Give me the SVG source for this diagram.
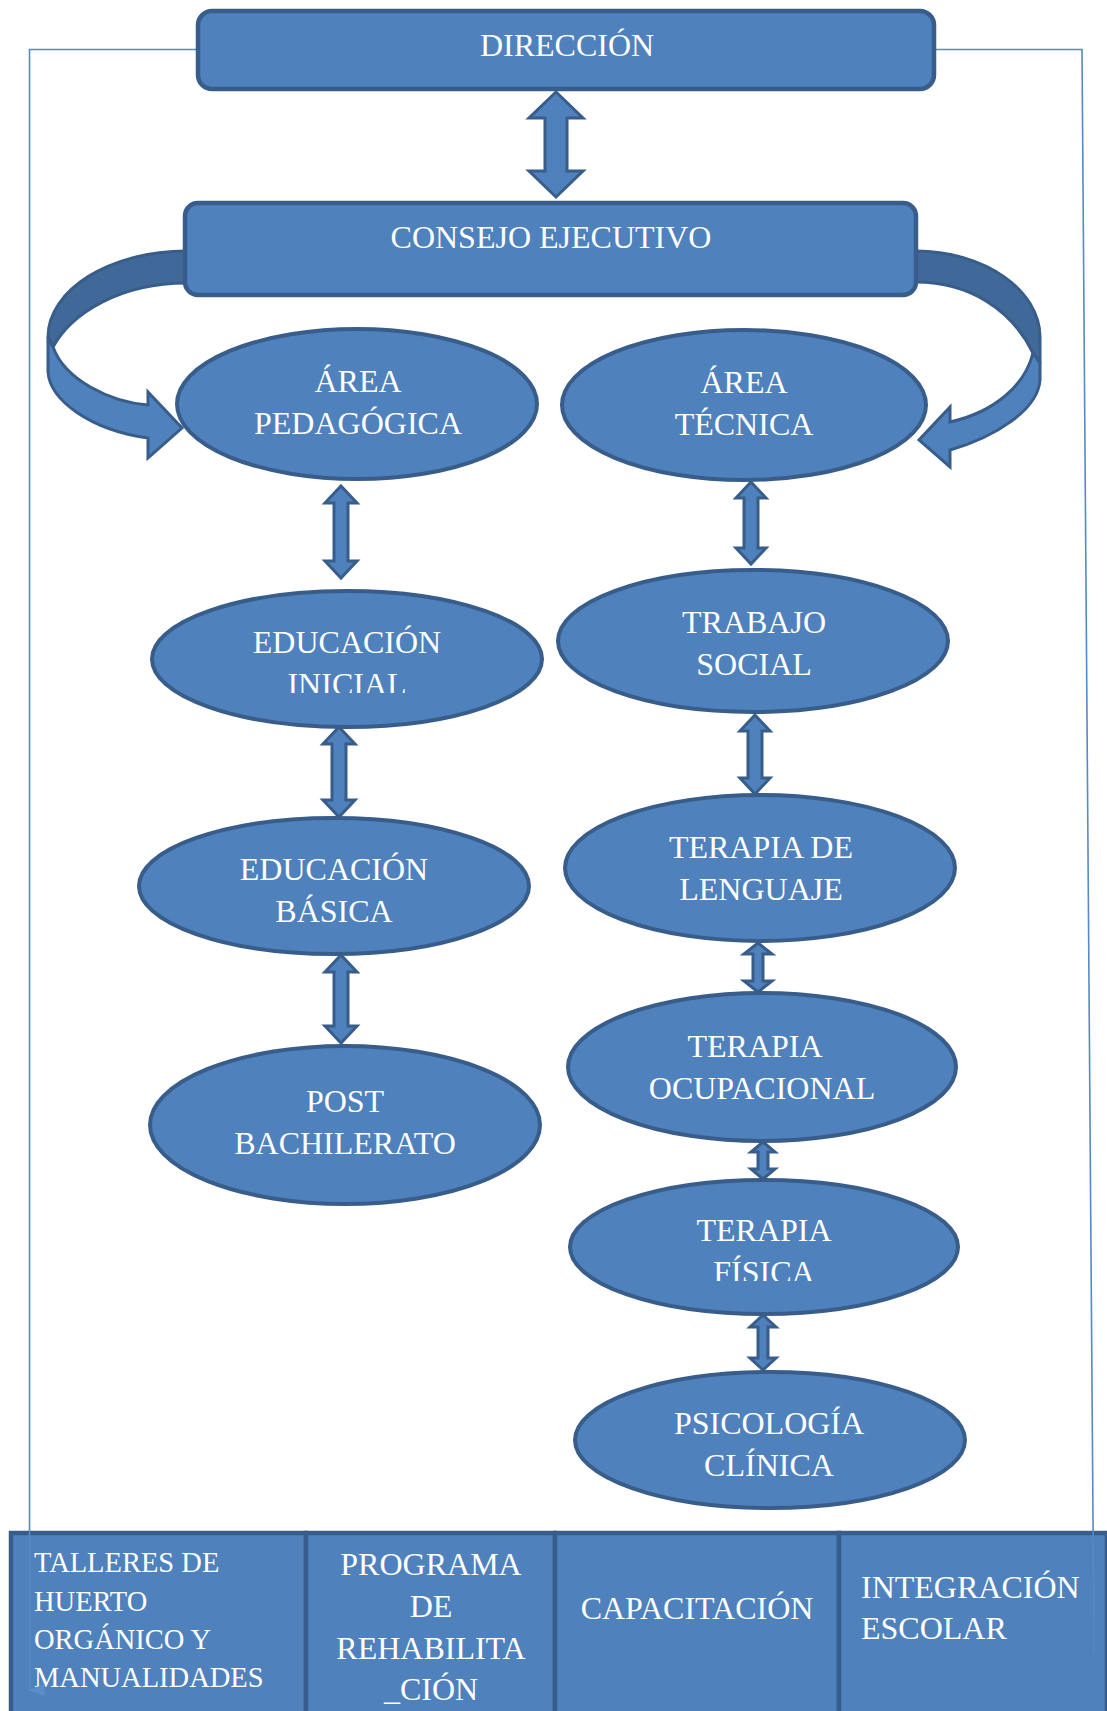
<svg xmlns="http://www.w3.org/2000/svg" width="1107" height="1711" viewBox="0 0 1107 1711">
<defs>
<style>
.box{fill:#4F81BD;stroke:#385D8A;stroke-width:4.5}
.ell{fill:#4F81BD;stroke:#385D8A;stroke-width:4}
.arr{fill:#4F81BD;stroke:#385D8A;stroke-width:3;stroke-linejoin:miter}
.back{fill:#406898;stroke:#385D8A;stroke-width:3;stroke-linejoin:round}
.ln{fill:none;stroke:#5689C7;stroke-width:1.6}
.t{font-family:"Liberation Serif","Times New Roman",serif;font-size:32px;fill:#FFFFFF;text-anchor:middle}
.tl{font-family:"Liberation Serif","Times New Roman",serif;font-size:32px;fill:#FFFFFF;text-anchor:start}
.ts{font-size:28.5px}
</style>
<marker id="ah" markerUnits="userSpaceOnUse" markerWidth="14" markerHeight="16" refX="6" refY="15" orient="auto-start-reverse" viewBox="0 0 12 16">
<path d="M0,0 L12,0 L6,16 Z" fill="#5B8DCA"/>
</marker>
<clipPath id="clipInicial"><rect x="140" y="600" width="420" height="93"/></clipPath>
<clipPath id="clipFisica"><rect x="560" y="1190" width="420" height="91"/></clipPath>
</defs>
<rect width="1107" height="1711" fill="#FFFFFF"/>

<g id="bottom-row">
<g id="talleres">
<rect class="box" x="11" y="1533" width="295" height="200"/>
<text class="tl ts" x="34" y="1572">TALLERES DE</text>
<text class="tl ts" x="34" y="1611">HUERTO</text>
<text class="tl ts" x="34" y="1649">ORGÁNICO Y</text>
<text class="tl ts" x="34" y="1687">MANUALIDADES</text>
</g>
<g id="programa">
<rect class="box" x="306" y="1533" width="249" height="200"/>
<text class="t" x="431" y="1575">PROGRAMA</text>
<text class="t" x="431" y="1617">DE</text>
<text class="t" x="431" y="1659">REHABILITA</text>
<text class="t" x="431" y="1700">_CIÓN</text>
</g>
<g id="capacitacion">
<rect class="box" x="555" y="1533" width="284" height="200"/>
<text class="t" x="697" y="1619">CAPACITACIÓN</text>
</g>
<g id="integracion">
<rect class="box" x="839" y="1533" width="268" height="200"/>
<text class="tl" x="861" y="1598">INTEGRACIÓN</text>
<text class="tl" x="861" y="1639">ESCOLAR</text>
</g>
</g>

<g id="area-pedagogica">
<ellipse class="ell" cx="357" cy="404" rx="180" ry="75"/>
<text class="t" x="358" y="392">ÁREA</text>
<text class="t" x="358" y="434">PEDAGÓGICA</text>
</g>
<g id="area-tecnica">
<ellipse class="ell" cx="744" cy="405" rx="182" ry="75"/>
<text class="t" x="744" y="393">ÁREA</text>
<text class="t" x="744" y="435">TÉCNICA</text>
</g>
<g id="educacion-inicial">
<ellipse class="ell" cx="347" cy="659" rx="195" ry="68"/>
<text class="t" x="347" y="653">EDUCACIÓN</text>
<text class="t" x="347" y="695" clip-path="url(#clipInicial)">INICIAL</text>
</g>
<g id="trabajo-social">
<ellipse class="ell" cx="753" cy="641" rx="195" ry="71"/>
<text class="t" x="754" y="633">TRABAJO</text>
<text class="t" x="754" y="675">SOCIAL</text>
</g>
<g id="educacion-basica">
<ellipse class="ell" cx="334" cy="886" rx="195" ry="68"/>
<text class="t" x="334" y="880">EDUCACIÓN</text>
<text class="t" x="334" y="922">BÁSICA</text>
</g>
<g id="terapia-lenguaje">
<ellipse class="ell" cx="760" cy="868" rx="195" ry="73"/>
<text class="t" x="761" y="858">TERAPIA DE</text>
<text class="t" x="761" y="900">LENGUAJE</text>
</g>
<g id="post-bachillerato">
<ellipse class="ell" cx="345" cy="1125" rx="195" ry="79"/>
<text class="t" x="345" y="1112">POST</text>
<text class="t" x="345" y="1154">BACHILERATO</text>
</g>
<g id="terapia-ocupacional">
<ellipse class="ell" cx="762" cy="1067" rx="194" ry="74"/>
<text class="t" x="755" y="1057">TERAPIA</text>
<text class="t" x="762" y="1099">OCUPACIONAL</text>
</g>
<g id="terapia-fisica">
<ellipse class="ell" cx="764" cy="1247" rx="194" ry="67"/>
<text class="t" x="764" y="1241">TERAPIA</text>
<text class="t" x="764" y="1283" clip-path="url(#clipFisica)">FÍSICA</text>
</g>
<g id="psicologia-clinica">
<ellipse class="ell" cx="770" cy="1440" rx="195" ry="68"/>
<text class="t" x="769" y="1434">PSICOLOGÍA</text>
<text class="t" x="769" y="1476">CLÍNICA</text>
</g>

<g id="connectors">
<path class="ln" d="M196,49.5 L29.5,49.5 L29.5,1690" marker-end="url(#ah)"/>
<path class="ln" d="M936,49.5 L1082,49.5 L1094,1652"/>
<path class="back" d="M186,251 C110,251 48,290 48,337 L53,347 C72,312 122,283 186,283 Z"/>
<path class="arr" d="M48,337 L48,372 C50,400 90,430 148,438 L148,458 L182,428 L148,392 L148,405 C110,402 65,380 53,347 Z"/>
<path class="back" d="M916,251 C984,251 1040,290 1040,337 L1040,363 L1033,353 C1012,310 970,282 916,282 Z"/>
<path class="arr" d="M1040,363 L1040,380 C1038,410 995,437 950,450 L950,467 L919,440 L950,407 L950,422 C995,412 1025,385 1033,353 Z"/>
<path class="arr" d="M556,92 L583,118 L567,118 L567,171 L583,171 L556,197 L529,171 L545,171 L545,118 L529,118 Z"/>
<path class="arr" d="M341,486 L357,503 L348,503 L348,561 L357,561 L341,578 L325,561 L334,561 L334,503 L325,503 Z"/>
<path class="arr" d="M339,727 L355,744 L346,744 L346,800 L355,800 L339,817 L323,800 L332,800 L332,744 L323,744 Z"/>
<path class="arr" d="M341,955 L357,972 L348,972 L348,1026 L357,1026 L341,1043 L325,1026 L334,1026 L334,972 L325,972 Z"/>
<path class="arr" d="M751,482 L766,498 L758,498 L758,548 L766,548 L751,564 L736,548 L744,548 L744,498 L736,498 Z"/>
<path class="arr" d="M755,715 L770,731 L762,731 L762,778 L770,778 L755,794 L740,778 L748,778 L748,731 L740,731 Z"/>
<path class="arr" d="M758,943 L772,954 L763,954 L763,981 L772,981 L758,992 L744,981 L753,981 L753,954 L744,954 Z"/>
<path class="arr" d="M763,1142 L775,1152 L768,1152 L768,1169 L775,1169 L763,1179 L751,1169 L758,1169 L758,1152 L751,1152 Z"/>
<path class="arr" d="M763,1315 L776,1327 L768,1327 L768,1358 L776,1358 L763,1370 L750,1358 L758,1358 L758,1327 L750,1327 Z"/>
</g>

<g id="direccion">
<rect class="box" x="198" y="11" width="736" height="78" rx="14"/>
<text class="t" x="567" y="56">DIRECCIÓN</text>
</g>
<g id="consejo-ejecutivo">
<rect class="box" x="185" y="203" width="731" height="92" rx="13"/>
<text class="t" x="551" y="248">CONSEJO EJECUTIVO</text>
</g>
</svg>
